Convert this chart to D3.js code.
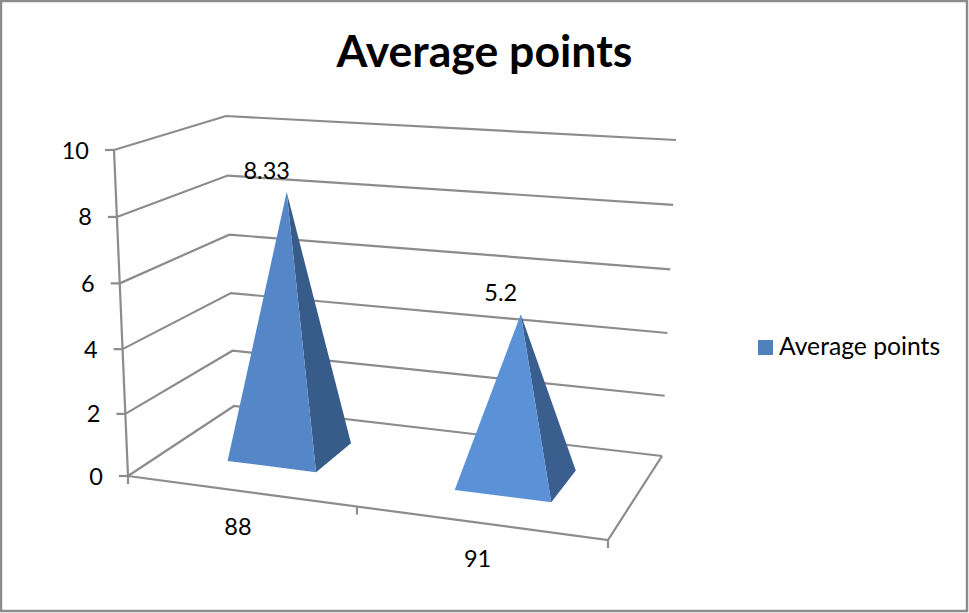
<!DOCTYPE html>
<html>
<head>
<meta charset="utf-8">
<script src="https://cdn.jsdelivr.net/npm/d3@7/dist/d3.min.js"></script>
<style>
html, body { margin: 0; padding: 0; background: #fff; }
svg { display: block; }
text { font-family: Lato, "Open Sans", sans-serif; fill: #000; }
</style>
</head>
<body>
<script>
const chartTitle = "Average points";
const seriesName = "Average points";
const categories = ["88", "91"];
const averagePoints = [8.33, 5.2];
const valueTicks = [0, 2, 4, 6, 8, 10];

const width = 969, height = 613;
const svg = d3.select("body").append("svg").attr("width", width).attr("height", height);

// Border of the chart area
svg.append("rect")
  .attr("x", 1).attr("y", 1).attr("width", 966).attr("height", 610)
  .attr("fill", "#fff").attr("stroke", "#8c8c8c").attr("stroke-width", 2.5);

// Projective map of the unit floor square: u runs along the categories, w runs into depth
const floorH = { a: 426.64, b: 137.02, c: 128, d: 16.61, e: -16.18, f: 476, g: -0.08776, h: 0.13257 };
function floorPoint(u, w) {
  const k = floorH.g * u + floorH.h * w + 1;
  return [(floorH.a * u + floorH.b * w + floorH.c) / k, (floorH.d * u + floorH.e * w + floorH.f) / k];
}

// Height of one tenth of the value range at each floor corner, bilinearly blended
const riseFront = d3.scaleLinear().domain([0, 1]).range([[-1.4, -32.6], [1.7, -34.6]]);
const riseBack = d3.scaleLinear().domain([0, 1]).range([[-0.8, -29], [1.4, -31.6]]);
function rise(u, w) {
  const f = riseFront(u), b = riseBack(u);
  return [f[0] + (b[0] - f[0]) * w, f[1] + (b[1] - f[1]) * w];
}

// Value axis, very slightly foreshortened towards the viewer
const valueScale = d3.scalePow().exponent(1.03).domain([0, 10]).range([0, 10]);
function project(u, w, v) {
  const p = floorPoint(u, w), r = rise(u, w), t = valueScale(v);
  return [p[0] + r[0] * t, p[1] + r[1] * t];
}

// Category positions along the floor
const bandScale = d3.scaleBand().domain(categories).range([0, 1]);
const pyramidHalfWidth = 0.1, depthNear = 0.305, depthFar = 0.695;

const line = d3.line();
const gridColor = "#8c8c8c";
const frame = svg.append("g").attr("fill", "none").attr("stroke", gridColor).attr("stroke-width", 2.2);

// Gridlines across the left and back walls
valueTicks.forEach(v => {
  frame.append("path").attr("d", line([project(0, 0, v), project(0, 1, v), project(1, 1, v)]));
});

// Floor outline and vertical axis
frame.append("path").attr("d", line([floorPoint(1, 1), floorPoint(1, 0), floorPoint(0, 0)]));
frame.append("path").attr("d", line([project(0, 0, 0), project(0, 0, 10)]));

// Value axis ticks and labels
valueTicks.forEach(v => {
  const [x, y] = project(0, 0, v);
  frame.append("path").attr("d", line([[x - 9, y], [x, y]]));
  svg.append("text").attr("x", x - 25).attr("y", y + 8.5)
    .attr("text-anchor", "end").attr("font-size", 23.5).text(v);
});

// Category ticks along the front edge of the floor
d3.range(categories.length + 1).forEach(i => {
  const [x, y] = floorPoint(i / categories.length, 0);
  frame.append("path").attr("d", line([[x, y], [x, y + 8]]));
});

// Front faces brighten slightly towards the right of the floor
const frontShade = d3.scaleLinear().domain([0.25, 0.75]).range(["#5586c8", "#5b91d6"]);
const sideShade = d3.scaleLinear().domain([0.25, 0.75]).range(["#375c89", "#3a5f8e"]);

categories.forEach((cat, i) => {
  const uc = bandScale(cat) + bandScale.bandwidth() / 2;
  const value = averagePoints[i];
  const wc = (depthNear + depthFar) / 2;
  const apex = project(uc, wc, value);
  const fl = floorPoint(uc - pyramidHalfWidth, depthNear);
  const fr = floorPoint(uc + pyramidHalfWidth, depthNear);
  const br = floorPoint(uc + pyramidHalfWidth, depthFar);

  svg.append("path").attr("d", line([fr, br, apex]) + "Z").attr("fill", sideShade(uc));
  svg.append("path").attr("d", line([fl, fr, apex]) + "Z").attr("fill", frontShade(uc));

  // Value label above the apex
  svg.append("text").attr("x", apex[0] - 20).attr("y", apex[1] - 13)
    .attr("text-anchor", "middle").attr("font-size", 23.5).text(value);

  // Category label below the front edge
  const base = floorPoint(uc, 0);
  svg.append("text").attr("x", base[0] - 2).attr("y", base[1] + 44)
    .attr("text-anchor", "middle").attr("font-size", 23.5).text(cat);
});

// Title
svg.append("text").attr("x", 484.5).attr("y", 67)
  .attr("text-anchor", "middle").attr("font-size", 44.6).attr("font-weight", 700).text(chartTitle);

// Legend
svg.append("rect").attr("x", 758).attr("y", 340).attr("width", 15).attr("height", 15).attr("fill", "#4f81bd");
svg.append("text").attr("x", 779).attr("y", 355).attr("font-size", 24.7).text(seriesName);
</script>
</body>
</html>
